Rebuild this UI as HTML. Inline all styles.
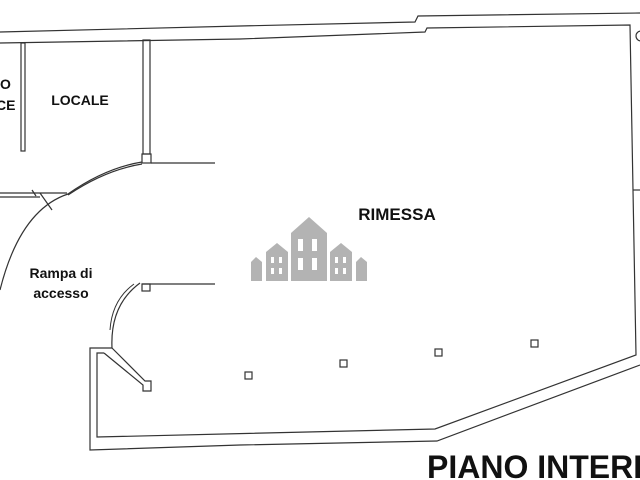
<!DOCTYPE html>
<html><head><style>
html,body{margin:0;padding:0;background:#fff;width:640px;height:480px;overflow:hidden}
svg{display:block}
text{font-family:"Liberation Sans",sans-serif;font-weight:bold;fill:#111}
</style></head><body>
<svg width="640" height="480" viewBox="0 0 640 480" xmlns="http://www.w3.org/2000/svg">
<g fill="none" stroke="#333" stroke-width="1.2">
<polyline points="0,32 240,26 415,22 418,16 640,13"/>
<polyline points="0,43 240,39 425,32 427,28 630,25 636,355 435,429 97,437 97,353 104,353"/>
<polyline points="640,365 437,441 240,445 90,450 90,348 112,348"/>
<rect x="21" y="43" width="4" height="108"/>
<rect x="143" y="40" width="7" height="114"/>
<rect x="142" y="154" width="9" height="9"/>
<line x1="151" y1="163" x2="215" y2="163"/>
<line x1="142" y1="284" x2="215" y2="284"/>
<line x1="0" y1="193" x2="67" y2="193"/>
<line x1="0" y1="197" x2="40" y2="197"/>
<line x1="40" y1="193" x2="52" y2="210"/>
<line x1="32" y1="190" x2="36" y2="196"/>
<path d="M0,290 Q20,210 68,194 Q105,168 142,162"/>
<path d="M68,195 Q105,170 142,164"/>
<path d="M112,348 Q110,305 140,283"/>
<path d="M110,330 Q112,300 134,284" stroke-width="1"/>
<rect x="142" y="284" width="8" height="7"/>
<polyline points="104,353 143,385 143,391 151,391 151,381 145,381 112,348"/>
<rect x="245" y="372" width="7" height="7"/>
<rect x="340" y="360" width="7" height="7"/>
<rect x="435" y="349" width="7" height="7"/>
<rect x="531" y="340" width="7" height="7"/>
<line x1="633" y1="190" x2="640" y2="190"/>
<circle cx="641" cy="36" r="5"/>
</g>
<g fill="#b3b3b3">
<polygon points="291,233 309,217 327,233 327,281 291,281"/>
<polygon points="266,252 277,243 288,252 288,281 266,281"/>
<polygon points="330,252 341,243 352,252 352,281 330,281"/>
<polygon points="251,262 256,257 262,262 262,281 251,281"/>
<polygon points="356,262 361,257 367,262 367,281 356,281"/>
</g>
<g fill="#fff">
<rect x="298" y="239" width="5" height="12"/><rect x="312" y="239" width="5" height="12"/>
<rect x="298" y="258" width="5" height="12"/><rect x="312" y="258" width="5" height="12"/>
<rect x="271" y="257" width="3" height="6"/><rect x="279" y="257" width="3" height="6"/>
<rect x="271" y="268" width="3" height="6"/><rect x="279" y="268" width="3" height="6"/>
<rect x="335" y="257" width="3" height="6"/><rect x="343" y="257" width="3" height="6"/>
<rect x="335" y="268" width="3" height="6"/><rect x="343" y="268" width="3" height="6"/>
</g>
<text x="0" y="89" font-size="14">O</text>
<text x="-4" y="110" font-size="14">CE</text>
<text x="80" y="105" font-size="14" text-anchor="middle">LOCALE</text>
<text x="397" y="220" font-size="17" text-anchor="middle">RIMESSA</text>
<text x="61" y="278" font-size="14" text-anchor="middle">Rampa di</text>
<text x="61" y="298" font-size="14" text-anchor="middle">accesso</text>
<text x="427" y="478" font-size="32">PIANO INTERR</text>
</svg>
</body></html>
